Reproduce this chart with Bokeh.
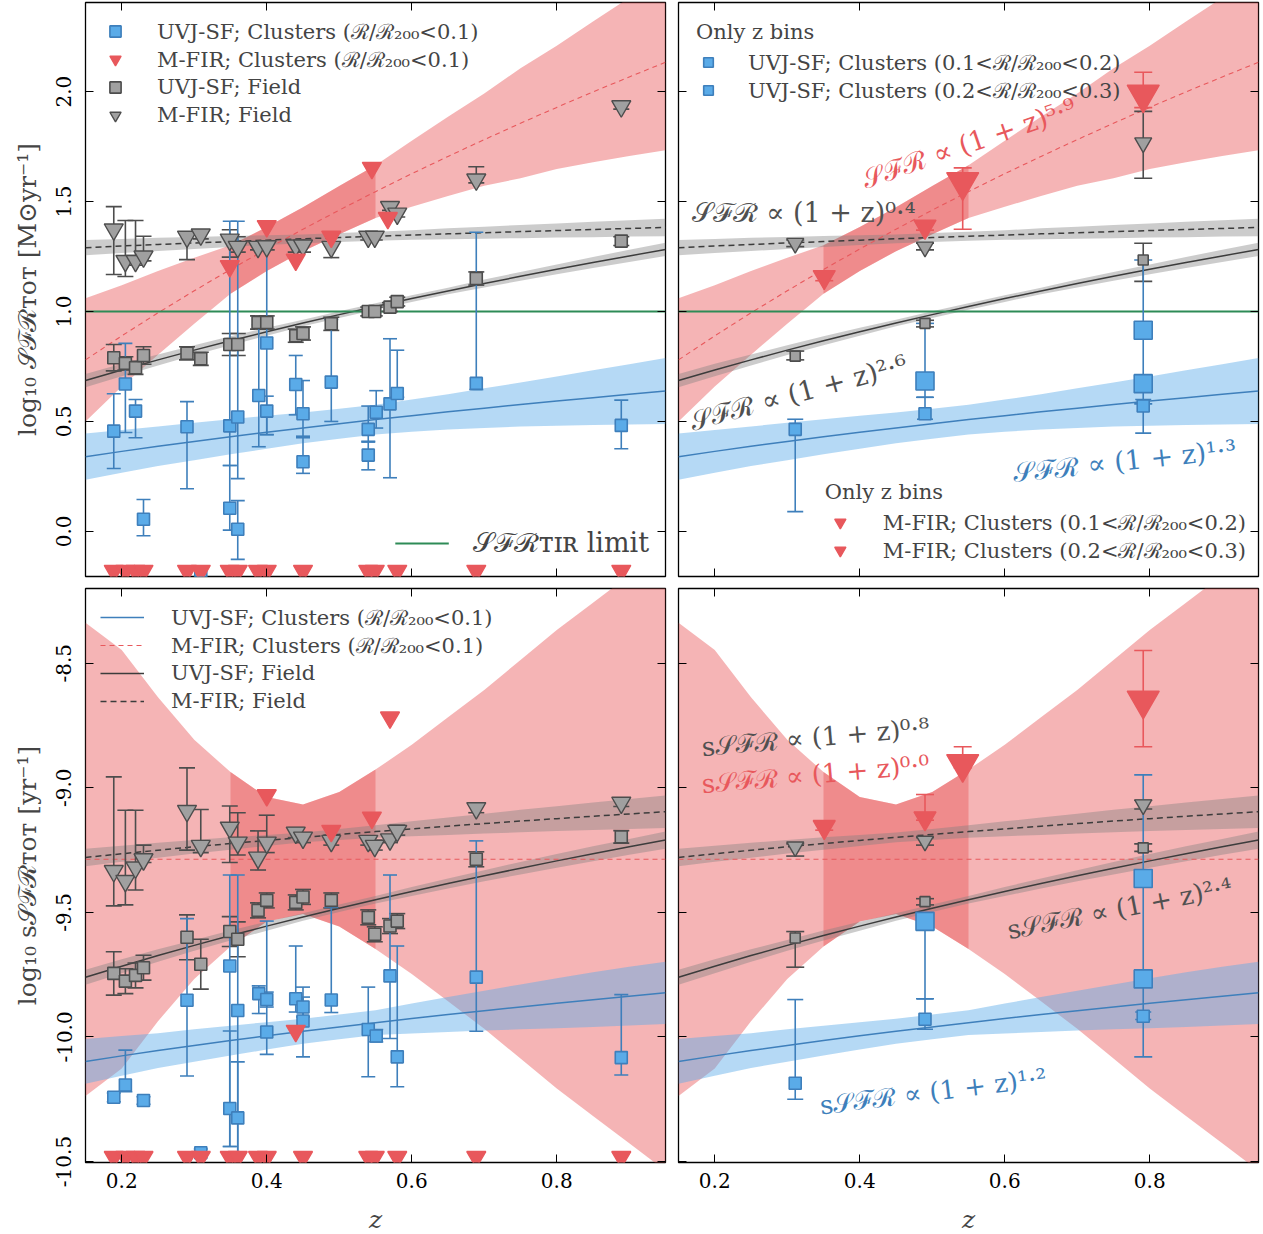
import numpy as np
from bokeh.plotting import figure
from bokeh.models import Range1d, LinearAxis, Legend, LegendItem, Label, FixedTicker, PrintfTickFormatter
from bokeh.layouts import gridplot
from bokeh.embed import file_html
from bokeh.resources import INLINE

FONT = "DejaVu Serif"

# ---------------- axes ----------------
X_RANGE = (0.15, 0.95)
SFR_RANGE = (-0.205, 2.405)
SSFR_RANGE = (-10.504, -8.2)
X_TICKS = [0.2, 0.4, 0.6, 0.8]
SFR_TICKS = [0.0, 0.5, 1.0, 1.5, 2.0]
SSFR_TICKS = [-10.5, -10.0, -9.5, -9.0, -8.5]
TIR_LIMIT = 1.0
DATA_Z_RANGE = (0.35, 0.55)

# ---------------- fits: log = a + b*log10(1+z); band half widths read at BAND_Z ----------------
BAND_Z = [0.15, 0.20, 0.25, 0.30, 0.35, 0.40, 0.45, 0.50, 0.55,
          0.60, 0.65, 0.70, 0.75, 0.80, 0.85, 0.90, 0.95]
SFR_UVJ_CL = (0.261, 1.3)
SFR_UVJ_CL_HW = [0.105, 0.097, 0.09, 0.085, 0.08, 0.075, 0.07, 0.068, 0.068,
                 0.073, 0.08, 0.09, 0.10, 0.112, 0.125, 0.137, 0.15]
SFR_UVJ_FI = (0.528, 2.6)
SFR_UVJ_FI_HW = [0.03, 0.028, 0.025, 0.022, 0.02, 0.018, 0.015, 0.015, 0.015,
                 0.015, 0.015, 0.018, 0.02, 0.022, 0.025, 0.028, 0.03]
SFR_FIR_FI = (1.266, 0.4)
SFR_FIR_FI_HW = [0.035, 0.032, 0.03, 0.027, 0.025, 0.022, 0.02, 0.02, 0.02,
                 0.022, 0.025, 0.027, 0.03, 0.032, 0.035, 0.037, 0.04]
SFR_FIR_CL = (0.422, 5.9)
SFR_FIR_CL_HW = [0.28, 0.23, 0.19, 0.15, 0.11, 0.10, 0.10, 0.11, 0.12,
                 0.15, 0.18, 0.21, 0.25, 0.28, 0.32, 0.36, 0.40]

SSFR_UVJ_CL = (-10.171, 1.2)
SSFR_UVJ_CL_HW = [0.09, 0.08, 0.07, 0.065, 0.06, 0.055, 0.05, 0.05, 0.05,
                  0.06, 0.07, 0.08, 0.09, 0.10, 0.11, 0.118, 0.125]
SSFR_UVJ_FI = (-9.906, 2.4)
SSFR_UVJ_FI_HW = [0.03, 0.028, 0.025, 0.022, 0.02, 0.018, 0.015, 0.015, 0.015,
                  0.018, 0.02, 0.022, 0.025, 0.028, 0.03, 0.032, 0.035]
SSFR_FIR_FI = (-9.328, 0.8)
SSFR_FIR_FI_HW = [0.035, 0.032, 0.03, 0.027, 0.025, 0.022, 0.02, 0.022, 0.025,
                  0.03, 0.035, 0.04, 0.045, 0.05, 0.055, 0.06, 0.065]
SSFR_FIR_CL = (-9.287, 0.0)
SSFR_FIR_CL_HW = [0.95, 0.84, 0.65, 0.48, 0.35, 0.25, 0.22, 0.27, 0.36,
                  0.46, 0.57, 0.68, 0.80, 0.92, 1.03, 1.14, 1.25]

# ---------------- top-left: SFR, individual clusters ----------------
FI_Z = [0.189, 0.205, 0.219, 0.230, 0.290, 0.309, 0.349, 0.360, 0.388, 0.400,
        0.440, 0.450, 0.489, 0.540, 0.549, 0.570, 0.580, 0.689, 0.889]
TL_FI_UVJ = [0.79, 0.764, 0.744, 0.80, 0.81, 0.785, 0.85, 0.85, 0.95, 0.95,
             0.89, 0.90, 0.944, 1.0, 1.0, 1.02, 1.045, 1.15, 1.32]
TL_FI_UVJ_ERR = [0.06, 0.03, 0.03, 0.04, 0.03, 0.03, 0.05, 0.05, 0.03, 0.03,
                 0.03, 0.03, 0.03, 0.02, 0.02, 0.02, 0.02, 0.03, 0.02]
TL_FI_FIR = [1.373, 1.23, 1.23, 1.25, 1.34, 1.35, 1.327, 1.294, 1.294, 1.297,
             1.30, 1.30, 1.294, 1.34, 1.34, 1.475, 1.445, 1.60, 1.933]
TL_FI_FIR_LO = [1.168, 1.159, 1.21, 1.23, 1.236, 1.33, 1.247, 1.27, 1.28, 1.28,
                1.27, 1.27, 1.245, 1.325, 1.325, 1.46, 1.43, 1.585, 1.92]
TL_FI_FIR_HI = [1.477, 1.414, 1.414, 1.342, 1.36, 1.365, 1.372, 1.34, 1.31, 1.31,
                1.315, 1.315, 1.31, 1.355, 1.355, 1.49, 1.46, 1.658, 1.95]

CL_UVJ_Z = [0.189, 0.205, 0.219, 0.230, 0.290, 0.309, 0.349, 0.349, 0.360, 0.360, 0.389,
            0.400, 0.400, 0.440, 0.450, 0.450, 0.489, 0.540, 0.540, 0.551, 0.570, 0.580,
            0.689, 0.889]
TL_CL_UVJ = [0.456, 0.67, 0.547, 0.055, 0.476, -0.185, 0.48, 0.105, 0.52, 0.01, 0.618,
             0.857, 0.547, 0.668, 0.535, 0.317, 0.679, 0.464, 0.347, 0.542, 0.58, 0.627,
             0.673, 0.482]
TL_CL_UVJ_LO = [0.286, 0.45, 0.426, -0.02, 0.194, -0.205, 0.30, 0.006, 0.24, -0.127, 0.385,
                0.44, 0.44, 0.53, 0.426, 0.264, 0.50, 0.41, 0.28, 0.47, 0.244, 0.61,
                0.645, 0.376]
TL_CL_UVJ_HI = [0.626, 0.855, 0.60, 0.145, 0.59, -0.17, 1.41, 0.30, 1.41, 0.14, 0.94,
                1.31, 0.615, 0.80, 0.686, 0.433, 0.964, 0.57, 0.406, 0.64, 0.876, 0.824,
                1.36, 0.597]

CL_FIR_Z = [0.349, 0.400, 0.440, 0.489, 0.545, 0.567]
TL_CL_FIR = [1.206, 1.388, 1.236, 1.34, 1.653, 1.425]
LIMIT_Z = [0.189, 0.205, 0.219, 0.230, 0.290, 0.309, 0.349, 0.360, 0.388, 0.400,
           0.450, 0.540, 0.549, 0.580, 0.689, 0.889]

# ---------------- bottom-left: sSFR, individual clusters ----------------
BL_FI_UVJ = [-9.745, -9.776, -9.753, -9.722, -9.60, -9.708, -9.577, -9.608, -9.492, -9.452,
             -9.46, -9.438, -9.452, -9.52, -9.588, -9.555, -9.535, -9.287, -9.197]
BL_FI_UVJ_ERR = [0.087, 0.05, 0.05, 0.05, 0.09, 0.10, 0.06, 0.07, 0.03, 0.03,
                 0.03, 0.03, 0.03, 0.03, 0.03, 0.03, 0.03, 0.03, 0.025]
BL_FI_FIR = [-9.334, -9.374, -9.32, -9.287, -9.093, -9.233, -9.16, -9.22, -9.28, -9.22,
             -9.18, -9.20, -9.213, -9.213, -9.233, -9.207, -9.173, -9.082, -9.06]
BL_FI_FIR_LO = [-9.474, -9.47, -9.41, -9.30, -9.25, -9.26, -9.30, -9.27, -9.33, -9.26,
                -9.20, -9.22, -9.23, -9.23, -9.25, -9.22, -9.19, -9.10, -9.075]
BL_FI_FIR_HI = [-8.956, -9.09, -9.09, -9.23, -8.92, -9.087, -9.073, -9.10, -9.173, -9.11,
                -9.16, -9.18, -9.19, -9.20, -9.21, -9.19, -9.15, -9.065, -9.045]

BL_CL_UVJ_Z = [0.189, 0.205, 0.230, 0.290, 0.309, 0.349, 0.349, 0.360, 0.360, 0.389, 0.400,
               0.400, 0.440, 0.450, 0.450, 0.489, 0.540, 0.551, 0.570, 0.580, 0.689, 0.889]
BL_CL_UVJ = [-10.242, -10.193, -10.255, -9.853, -10.465, -9.715, -10.287, -9.894, -10.325,
             -9.826, -9.85, -9.98, -9.847, -9.88, -9.936, -9.852, -9.97, -9.996, -9.755,
             -10.08, -9.76, -10.083]
BL_CL_UVJ_LO = [-10.26, -10.22, -10.27, -10.157, -10.48, -10.44, -10.44, -10.47, -10.47,
                -9.906, -9.88, -10.07, -9.90, -9.92, -10.08, -9.902, -10.16, -10.02, -10.006,
                -10.20, -9.977, -10.153]
BL_CL_UVJ_HI = [-10.225, -10.053, -10.24, -9.525, -10.45, -9.35, -9.976, -9.35, -10.10,
                -9.795, -9.82, -9.535, -9.635, -9.84, -9.80, -9.48, -9.80, -9.97, -9.35,
                -9.635, -9.213, -9.83]
BL_CL_FIR_Z = [0.400, 0.440, 0.489, 0.545, 0.570]
BL_CL_FIR = [-9.03, -9.976, -9.173, -9.12, -8.718]

# ---------------- right panels: only z bins ----------------
BIN_Z = [0.311, 0.490, 0.791]
TR_FI_FIR = [1.31, 1.293, 1.767]
TR_FI_FIR_LO = [1.295, 1.28, 1.606]
TR_FI_FIR_HI = [1.325, 1.31, 1.91]
TR_FI_UVJ = [0.797, 0.946, 1.234]
TR_FI_UVJ_LO = [0.78, 0.93, 1.137]
TR_FI_UVJ_HI = [0.82, 0.96, 1.31]
BIN_FIR1_Z = [0.351, 0.490]
TR_FIR1 = [1.157, 1.386]
TR_FIR1_LO = [1.14, 1.37]
TR_FIR1_HI = [1.17, 1.40]
BIN_FIR2_Z = [0.542, 0.791]
TR_FIR2 = [1.589, 1.987]
TR_FIR2_LO = [1.374, 1.927]
TR_FIR2_HI = [1.653, 2.088]
BIN_UVJ1_Z = [0.311, 0.490, 0.791]
TR_UVJ1 = [0.464, 0.535, 0.57]
TR_UVJ1_LO = [0.09, 0.51, 0.447]
TR_UVJ1_HI = [0.51, 0.61, 0.60]
BIN_UVJ2_Z = [0.490, 0.791, 0.791]
TR_UVJ2 = [0.684, 0.915, 0.672]
TR_UVJ2_LO = [0.61, 0.58, 0.65]
TR_UVJ2_HI = [0.946, 1.234, 0.695]

BR_FI_FIR = [-9.237, -9.214, -9.068]
BR_FI_FIR_LO = [-9.274, -9.23, -9.085]
BR_FI_FIR_HI = [-9.225, -9.20, -9.05]
BR_FI_UVJ = [-9.603, -9.457, -9.241]
BR_FI_UVJ_LO = [-9.72, -9.47, -9.255]
BR_FI_UVJ_HI = [-9.577, -9.445, -9.225]
BR_FIR1 = [-9.157, -9.122]
BR_FIR1_LO = [-9.17, -9.13]
BR_FIR1_HI = [-9.14, -9.027]
BR_FIR2 = [-8.904, -8.649]
BR_FIR2_LO = [-8.92, -8.835]
BR_FIR2_HI = [-8.835, -8.449]
BR_UVJ1 = [-10.186, -9.929, -9.917]
BR_UVJ1_LO = [-10.25, -9.969, -9.93]
BR_UVJ1_HI = [-9.85, -9.847, -9.90]
BR_UVJ2 = [-9.536, -9.364, -9.767]
BR_UVJ2_LO = [-9.847, -10.08, -9.79]
BR_UVJ2_HI = [-9.52, -8.948, -9.745]

# ---------------- styles ----------------
BLUE_FILL = "#5AABE8"
BLUE_EDGE = "#3E7FBB"
RED = "#E8585C"
GREY_FILL = "#A0A0A0"
GREY_EDGE = "#4D4D4D"
GREY_LINE = "#3C3C3C"
GREEN = "#2E8B57"
FW, FH = 580, 574


def new_fig(yrange, yticks, left, bottom, ylabel=None):
    p = figure(frame_width=FW, frame_height=FH,
               x_range=Range1d(*X_RANGE), y_range=Range1d(*yrange),
               output_backend="svg", toolbar_location=None, tools="",
               min_border_left=85 if left else 7, min_border_right=6 if left else 3,
               min_border_top=6 if bottom else 2, min_border_bottom=6)
    p.grid.visible = False
    p.outline_line_color = "black"
    p.outline_line_width = 1.3
    p.xaxis.ticker = FixedTicker(ticks=X_TICKS)
    p.yaxis.ticker = FixedTicker(ticks=yticks)
    p.add_layout(LinearAxis(ticker=FixedTicker(ticks=X_TICKS)), "above")
    p.add_layout(LinearAxis(ticker=FixedTicker(ticks=yticks)), "right")
    for ax in p.axis:
        ax.major_tick_in = 8
        ax.major_tick_out = 0
        ax.minor_tick_line_color = None
        ax.axis_line_color = None
        ax.major_tick_line_color = "black"
        ax.major_tick_line_width = 1
        ax.major_label_text_font = FONT
        ax.major_label_text_font_size = "20px"
        ax.major_label_text_color = "black"
        ax.formatter = PrintfTickFormatter(format="%.1f")
    hidden = [(p.above[0], X_TICKS), (p.right[0], yticks)]
    if not left:
        hidden.append((p.left[0], yticks))
    if not bottom:
        hidden.append((p.below[0], X_TICKS))
    for ax, ticks in hidden:
        ax.major_label_overrides = {t: "" for t in ticks}
        ax.major_label_standoff = 0
    if left:
        p.left[0].major_label_orientation = "vertical"
        p.left[0].major_label_standoff = 14
        p.left[0].axis_label = ylabel
        p.left[0].axis_label_text_font = FONT
        p.left[0].axis_label_text_font_size = "25px"
        p.left[0].axis_label_text_font_style = "normal"
        p.left[0].axis_label_standoff = 12
    if bottom:
        p.below[0].major_label_standoff = 10
        p.below[0].axis_label = "z"
        p.below[0].axis_label_text_font = FONT
        p.below[0].axis_label_text_font_size = "25px"
        p.below[0].axis_label_text_font_style = "italic"
        p.below[0].axis_label_standoff = 14
    return p


def band(p, fit, hw, color, alpha):
    a, b = fit
    z = np.array(BAND_Z)
    line = a + b * np.log10(1 + z)
    p.varea(x=z, y1=line - np.array(hw), y2=line + np.array(hw), fill_color=color, fill_alpha=alpha)
    return z, line


def red_band(p, fit, hw):
    z, line = band(p, fit, hw, RED, 0.45)
    m = (z >= DATA_Z_RANGE[0] - 1e-9) & (z <= DATA_Z_RANGE[1] + 1e-9)
    p.varea(x=z[m], y1=(line - np.array(hw))[m], y2=(line + np.array(hw))[m],
            fill_color=RED, fill_alpha=0.45)
    return z, line


def draw_fits(p, fits):
    f_fircl, f_uvjcl, f_uvjfi, f_firfi = fits
    zr, lr = red_band(p, *f_fircl)
    zb, lb = band(p, *f_uvjcl, BLUE_FILL, 0.45)
    zg, lg = band(p, *f_uvjfi, "#808080", 0.4)
    zd, ld = band(p, *f_firfi, "#808080", 0.4)
    r_b = p.line(zb, lb, line_color=BLUE_EDGE, line_width=1.5)
    r_r = p.line(zr, lr, line_color=RED, line_width=1.1, line_dash="5 4")
    r_g = p.line(zg, lg, line_color=GREY_LINE, line_width=1.5)
    r_d = p.line(zd, ld, line_color=GREY_LINE, line_width=1.5, line_dash="6 4")
    return r_b, r_r, r_g, r_d


def errbar(p, z, lo, hi, color, cap=16, width=1.6):
    p.segment(x0=z, y0=lo, x1=z, y1=hi, line_color=color, line_width=width)
    p.scatter(x=z, y=lo, marker="dash", size=cap, line_color=color, line_width=width)
    p.scatter(x=z, y=hi, marker="dash", size=cap, line_color=color, line_width=width)


def squares(p, z, v, fill, edge, size):
    return p.scatter(x=z, y=v, marker="square", size=size, fill_color=fill,
                     line_color=edge, line_width=1.6)


def tris(p, z, v, fill, edge, size):
    return p.scatter(x=z, y=v, marker="inverted_triangle", size=size, fill_color=fill,
                     line_color=edge, line_width=1.4)


def legend(p, items, loc, title=None, font="21px", gw=30, gh=28, standoff=27, margin=15):
    lg = Legend(items=[LegendItem(label=l, renderers=[r]) for l, r in items], location=loc,
                border_line_color=None, background_fill_alpha=0, label_text_font=FONT,
                label_text_font_size=font, glyph_width=gw, glyph_height=gh, label_height=20,
                spacing=0, label_standoff=standoff, margin=margin, padding=0)
    if title:
        lg.title = title
        lg.title_text_font = FONT
        lg.title_text_font_size = font
        lg.title_text_font_style = "normal"
        lg.title_standoff = 4
    p.add_layout(lg)
    return lg


def annot(p, text, x, y, deg, color, size="27px"):
    p.add_layout(Label(x=x, y=y, text=text, angle=np.deg2rad(deg), text_color=color,
                       text_font=FONT, text_font_size=size, text_align="left",
                       text_baseline="alphabetic"))


SFR_FITS = [(SFR_FIR_CL, SFR_FIR_CL_HW), (SFR_UVJ_CL, SFR_UVJ_CL_HW),
            (SFR_UVJ_FI, SFR_UVJ_FI_HW), (SFR_FIR_FI, SFR_FIR_FI_HW)]
SSFR_FITS = [(SSFR_FIR_CL, SSFR_FIR_CL_HW), (SSFR_UVJ_CL, SSFR_UVJ_CL_HW),
             (SSFR_UVJ_FI, SSFR_UVJ_FI_HW), (SSFR_FIR_FI, SSFR_FIR_FI_HW)]

CL_LABEL = "Clusters (ℛ/ℛ₂₀₀<0.1)"
SFR_YLABEL = "log₁₀ 𝒮ℱℛᴛᴏᴛ [M⊙yr⁻¹]"
SSFR_YLABEL = "log₁₀ s𝒮ℱℛᴛᴏᴛ [yr⁻¹]"

# ================= top-left =================
p1 = new_fig(SFR_RANGE, SFR_TICKS, True, False, SFR_YLABEL)
draw_fits(p1, SFR_FITS)
r_tir = p1.line(x=list(X_RANGE), y=[TIR_LIMIT, TIR_LIMIT], line_color=GREEN, line_width=2.2)
errbar(p1, FI_Z, TL_FI_FIR_LO, TL_FI_FIR_HI, GREY_EDGE)
errbar(p1, FI_Z, [v - e for v, e in zip(TL_FI_UVJ, TL_FI_UVJ_ERR)],
       [v + e for v, e in zip(TL_FI_UVJ, TL_FI_UVJ_ERR)], GREY_EDGE)
errbar(p1, CL_UVJ_Z, TL_CL_UVJ_LO, TL_CL_UVJ_HI, BLUE_EDGE, cap=14)
r_gt = tris(p1, FI_Z, TL_FI_FIR, GREY_FILL, GREY_EDGE, 19)
r_gs = squares(p1, FI_Z, TL_FI_UVJ, GREY_FILL, GREY_EDGE, 12)
r_bs = squares(p1, CL_UVJ_Z, TL_CL_UVJ, BLUE_FILL, BLUE_EDGE, 12)
r_rt = tris(p1, CL_FIR_Z, TL_CL_FIR, RED, RED, 19)
tris(p1, LIMIT_Z, [SFR_RANGE[0] + 0.025] * len(LIMIT_Z), RED, RED, 19)
legend(p1, [("UVJ-SF; " + CL_LABEL, r_bs), ("M-FIR; " + CL_LABEL, r_rt),
            ("UVJ-SF; Field", r_gs), ("M-FIR; Field", r_gt)], "top_left")
legend(p1, [("𝒮ℱℛᴛɪʀ limit", r_tir)], "bottom_right", font="27px", gw=54, gh=34,
       standoff=24, margin=16)

# ================= top-right =================
p2 = new_fig(SFR_RANGE, SFR_TICKS, False, False)
draw_fits(p2, SFR_FITS)
p2.line(x=list(X_RANGE), y=[TIR_LIMIT, TIR_LIMIT], line_color=GREEN, line_width=2.2)
errbar(p2, BIN_Z, TR_FI_FIR_LO, TR_FI_FIR_HI, GREY_EDGE, cap=18)
errbar(p2, BIN_Z, TR_FI_UVJ_LO, TR_FI_UVJ_HI, GREY_EDGE, cap=18)
errbar(p2, BIN_FIR1_Z, TR_FIR1_LO, TR_FIR1_HI, RED, cap=18)
errbar(p2, BIN_FIR2_Z, TR_FIR2_LO, TR_FIR2_HI, RED, cap=18)
errbar(p2, BIN_UVJ1_Z, TR_UVJ1_LO, TR_UVJ1_HI, BLUE_EDGE, cap=16)
errbar(p2, BIN_UVJ2_Z, TR_UVJ2_LO, TR_UVJ2_HI, BLUE_EDGE, cap=18)
tris(p2, BIN_Z, TR_FI_FIR, GREY_FILL, GREY_EDGE, 17)
squares(p2, BIN_Z, TR_FI_UVJ, GREY_FILL, GREY_EDGE, 10)
ru1 = squares(p2, BIN_UVJ1_Z, TR_UVJ1, BLUE_FILL, BLUE_EDGE, 12)
ru2 = squares(p2, BIN_UVJ2_Z, TR_UVJ2, BLUE_FILL, BLUE_EDGE, 18)
rf1 = tris(p2, BIN_FIR1_Z, TR_FIR1, RED, RED, 22)
rf2 = tris(p2, BIN_FIR2_Z, TR_FIR2, RED, RED, 32)
legend(p2, [("UVJ-SF; Clusters (0.1<ℛ/ℛ₂₀₀<0.2)", ru1),
            ("UVJ-SF; Clusters (0.2<ℛ/ℛ₂₀₀<0.3)", ru2)], "top_left", title="Only z bins",
       gw=24, margin=18, standoff=28)
legend(p2, [("M-FIR; Clusters (0.1<ℛ/ℛ₂₀₀<0.2)", rf1),
            ("M-FIR; Clusters (0.2<ℛ/ℛ₂₀₀<0.3)", rf2)], "bottom_right", title="Only z bins",
       margin=12, standoff=28)
annot(p2, "𝒮ℱℛ ∝ (1 + z)⁰·⁴", 0.168, 1.45, 0, "#505050")
annot(p2, "𝒮ℱℛ ∝ (1 + z)⁵·⁹", 0.405, 1.60, 19, RED)
annot(p2, "𝒮ℱℛ ∝ (1 + z)²·⁶", 0.166, 0.50, 15, "#505050")
annot(p2, "𝒮ℱℛ ∝ (1 + z)¹·³", 0.612, 0.268, 6, BLUE_EDGE)

# ================= bottom-left =================
p3 = new_fig(SSFR_RANGE, SSFR_TICKS, True, True, SSFR_YLABEL)
lr_b, lr_r, lr_g, lr_d = draw_fits(p3, SSFR_FITS)
errbar(p3, FI_Z, BL_FI_FIR_LO, BL_FI_FIR_HI, GREY_EDGE)
errbar(p3, FI_Z, [v - e for v, e in zip(BL_FI_UVJ, BL_FI_UVJ_ERR)],
       [v + e for v, e in zip(BL_FI_UVJ, BL_FI_UVJ_ERR)], GREY_EDGE)
errbar(p3, BL_CL_UVJ_Z, BL_CL_UVJ_LO, BL_CL_UVJ_HI, BLUE_EDGE, cap=14)
tris(p3, FI_Z, BL_FI_FIR, GREY_FILL, GREY_EDGE, 19)
squares(p3, FI_Z, BL_FI_UVJ, GREY_FILL, GREY_EDGE, 12)
squares(p3, BL_CL_UVJ_Z, BL_CL_UVJ, BLUE_FILL, BLUE_EDGE, 12)
tris(p3, BL_CL_FIR_Z, BL_CL_FIR, RED, RED, 19)
tris(p3, LIMIT_Z, [SSFR_RANGE[0] + 0.022] * len(LIMIT_Z), RED, RED, 19)
legend(p3, [("UVJ-SF; " + CL_LABEL, lr_b), ("M-FIR; " + CL_LABEL, lr_r),
            ("UVJ-SF; Field", lr_g), ("M-FIR; Field", lr_d)], "top_left",
       gw=44, gh=28, standoff=27, margin=15)

# ================= bottom-right =================
p4 = new_fig(SSFR_RANGE, SSFR_TICKS, False, True)
draw_fits(p4, SSFR_FITS)
errbar(p4, BIN_Z, BR_FI_FIR_LO, BR_FI_FIR_HI, GREY_EDGE, cap=18)
errbar(p4, BIN_Z, BR_FI_UVJ_LO, BR_FI_UVJ_HI, GREY_EDGE, cap=18)
errbar(p4, BIN_FIR1_Z, BR_FIR1_LO, BR_FIR1_HI, RED, cap=18)
errbar(p4, BIN_FIR2_Z, BR_FIR2_LO, BR_FIR2_HI, RED, cap=18)
errbar(p4, BIN_UVJ1_Z, BR_UVJ1_LO, BR_UVJ1_HI, BLUE_EDGE, cap=16)
errbar(p4, BIN_UVJ2_Z, BR_UVJ2_LO, BR_UVJ2_HI, BLUE_EDGE, cap=18)
tris(p4, BIN_Z, BR_FI_FIR, GREY_FILL, GREY_EDGE, 17)
squares(p4, BIN_Z, BR_FI_UVJ, GREY_FILL, GREY_EDGE, 10)
squares(p4, BIN_UVJ1_Z, BR_UVJ1, BLUE_FILL, BLUE_EDGE, 12)
squares(p4, BIN_UVJ2_Z, BR_UVJ2, BLUE_FILL, BLUE_EDGE, 18)
tris(p4, BIN_FIR1_Z, BR_FIR1, RED, RED, 22)
tris(p4, BIN_FIR2_Z, BR_FIR2, RED, RED, 32)
annot(p4, "s𝒮ℱℛ ∝ (1 + z)⁰·⁸", 0.182, -8.837, 5, "#505050", "26px")
annot(p4, "s𝒮ℱℛ ∝ (1 + z)⁰·⁰", 0.182, -8.986, 5, RED, "26px")
annot(p4, "s𝒮ℱℛ ∝ (1 + z)²·⁴", 0.604, -9.572, 11, "#505050", "26px")
annot(p4, "s𝒮ℱℛ ∝ (1 + z)¹·²", 0.345, -10.275, 7, BLUE_EDGE, "26px")

grid = gridplot([[p1, p2], [p3, p4]], toolbar_location=None)
open("out.html", "w").write(file_html(grid, INLINE))
